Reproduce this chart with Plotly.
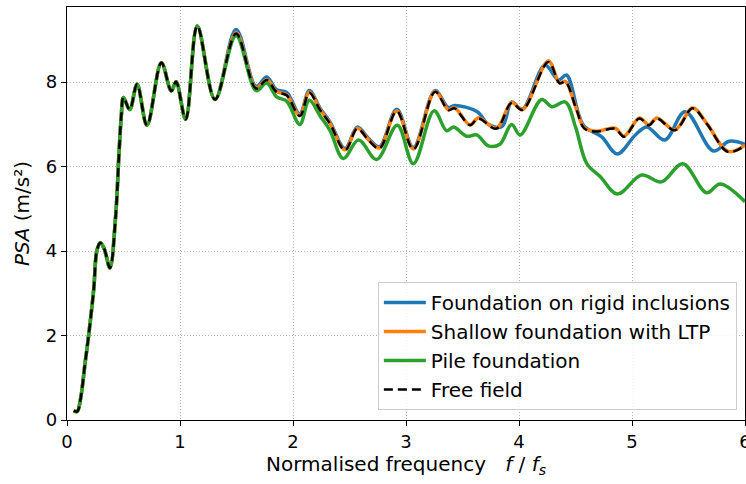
import plotly.graph_objects as go

# Shared low-frequency part (all series coincide)
f_low = [0.06, 0.09, 0.12, 0.16, 0.19, 0.236, 0.265, 0.295, 0.33, 0.38, 0.43, 0.46, 0.48, 0.50,
         0.555, 0.62, 0.708, 0.835, 0.923, 0.965, 1.05, 1.153, 1.31]
psa_low = [0.22, 0.2, 0.5, 1.35, 1.97, 3.08, 4.02, 4.2, 4.05, 3.6, 4.81, 6.3, 7.18, 7.64,
           7.35, 7.95, 6.98, 8.46, 7.79, 8.01, 7.12, 9.33, 7.59]

# Free field
f_ff = [1.496, 1.673, 1.767, 1.855, 1.944, 2.06, 2.144, 2.24, 2.327, 2.46, 2.57, 2.667, 2.764,
        2.918, 3.065, 3.257, 3.374, 3.43, 3.566, 3.64, 3.80, 3.935, 4.03, 4.26, 4.36, 4.41,
        4.51, 4.58, 4.69, 4.85, 4.93, 5.065, 5.15, 5.22, 5.38, 5.537, 5.66, 5.85, 6.0]
psa_ff = [9.15, 7.85, 8.05, 7.77, 7.69, 7.2, 7.75, 7.34, 7.02, 6.39, 6.9, 6.63, 6.43,
          7.31, 6.41, 7.77, 7.34, 7.38, 6.98, 7.14, 6.9, 7.51, 7.34, 8.48, 7.97, 8.01,
          7.34, 6.9, 6.83, 6.9, 6.71, 7.14, 6.98, 7.14, 6.86, 7.38, 7.02, 6.35, 6.5]

# Shallow foundation with LTP (follows free field)
f_ltp = f_ff
psa_ltp = [9.17, 7.86, 8.06, 7.78, 7.7, 7.21, 7.76, 7.35, 7.03, 6.4, 6.91, 6.64, 6.44,
           7.32, 6.42, 7.78, 7.35, 7.39, 6.99, 7.15, 6.91, 7.52, 7.35, 8.5, 7.98, 8.02,
           7.35, 6.91, 6.84, 6.91, 6.72, 7.15, 6.99, 7.15, 6.87, 7.39, 7.03, 6.36, 6.51]

# Foundation on rigid inclusions
f_ri = [1.496, 1.673, 1.767, 1.855, 1.944, 2.06, 2.144, 2.24, 2.327, 2.46, 2.57, 2.667, 2.764,
        2.918, 3.065, 3.257, 3.374, 3.43, 3.63, 3.73, 3.85, 3.935, 4.03, 4.23, 4.35, 4.42,
        4.57, 4.73, 4.87, 5.03, 5.13, 5.29, 5.47, 5.72, 5.86, 6.0]
psa_ri = [9.25, 7.9, 8.12, 7.82, 7.76, 7.25, 7.8, 7.38, 7.06, 6.43, 6.94, 6.67, 6.47,
          7.36, 6.45, 7.8, 7.4, 7.45, 7.30, 7.0, 6.95, 7.53, 7.36, 8.40, 8.05, 8.17,
          6.98, 6.71, 6.3, 6.75, 6.94, 6.63, 7.3, 6.37, 6.6, 6.53]

# Pile foundation
f_pf = [1.496, 1.673, 1.767, 1.855, 1.944, 2.06, 2.144, 2.24, 2.327, 2.445, 2.58, 2.74,
        2.923, 3.065, 3.248, 3.36, 3.42, 3.537, 3.626, 3.73, 3.83, 3.935, 4.01, 4.2, 4.29,
        4.41, 4.5, 4.6, 4.72, 4.87, 5.085, 5.26, 5.45, 5.66, 5.78, 6.0]
psa_pf = [9.1, 7.8, 7.98, 7.65, 7.55, 7.0, 7.57, 7.2, 6.86, 6.19, 6.63, 6.17,
          6.98, 6.07, 7.32, 6.85, 6.94, 6.72, 6.75, 6.49, 6.53, 7.0, 6.75, 7.59, 7.42,
          7.53, 6.94, 6.07, 5.76, 5.35, 5.80, 5.64, 6.07, 5.38, 5.59, 5.17]

series = [
    ("Foundation on rigid inclusions", f_ri, psa_ri, "#1f77b4", 3.5, "solid"),
    ("Shallow foundation with LTP", f_ltp, psa_ltp, "#ff7f0e", 3.5, "solid"),
    ("Pile foundation", f_pf, psa_pf, "#2ca02c", 3.5, "solid"),
    ("Free field", f_ff, psa_ff, "black", 2.5, "9px,5px"),
]

fig = go.Figure()
for i, (name, fx, py, col, lw, dash) in enumerate(series):
    fig.add_trace(go.Scatter(
        x=f_low + fx, y=psa_low + py, mode="lines", name=name,
        line=dict(color=col, width=lw, dash=dash, shape="spline", smoothing=1.0),
        legendgroup=f"g{i}",
    ))

axis_common = dict(
    showline=True, linecolor="black", linewidth=1.2, mirror=True,
    ticks="outside", ticklen=5, tickwidth=1.2, tickcolor="black",
    showgrid=True, gridcolor="#b0b0b0", gridwidth=1, griddash="1px,2px",
    zeroline=False, automargin=False, ticklabeloverflow="allow",
    tickfont=dict(family="DejaVu Sans", size=18, color="black"),
)

fig.update_layout(
    width=746, height=484,
    margin=dict(l=67, r=1, t=7, b=64, autoexpand=False),
    plot_bgcolor="white", paper_bgcolor="white",
    font=dict(family="DejaVu Sans", color="black"),
    xaxis=dict(range=[0, 6], tickvals=[0, 1, 2, 3, 4, 5, 6],
               title=dict(text="Normalised frequency&nbsp;&nbsp; <i>f</i> / <i>f</i><sub><i>s</i></sub>",
                          font=dict(size=20), standoff=5),
               **axis_common),
    yaxis=dict(range=[0, 9.78], tickvals=[0, 2, 4, 6, 8],
               title=dict(text="<i>PSA</i> (m/s²)", font=dict(size=20), standoff=10),
               **axis_common),
    legend=dict(x=0.988, xanchor="right", y=0.024, yanchor="bottom",
                bgcolor="rgba(255,255,255,0.85)", bordercolor="#cccccc", borderwidth=1,
                font=dict(size=20), traceorder="grouped", tracegroupgap=0, itemwidth=42),
    showlegend=True,
)

fig.write_html("out.html", config={"displayModeBar": False},
               post_script="document.body.style.margin='0px';")
